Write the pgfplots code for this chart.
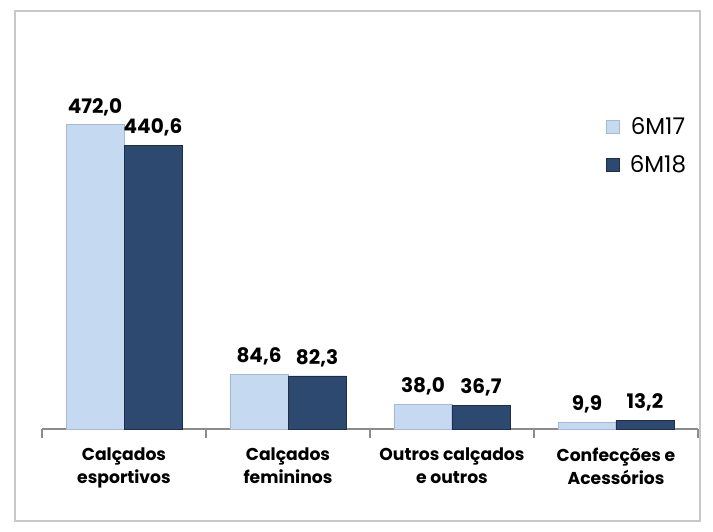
\documentclass[border=0pt]{standalone}
\usepackage{fontspec}
\setmainfont{Poppins}
\usepackage{pgfplots}
\pgfplotsset{compat=1.18}

\definecolor{light}{RGB}{197,217,241}
\definecolor{lightedge}{RGB}{165,185,210}
\definecolor{dark}{RGB}{45,73,112}
\definecolor{darkedge}{RGB}{28,46,74}
\definecolor{frame}{RGB}{200,200,200}
\definecolor{axisgray}{RGB}{140,140,140}

\begin{document}
\begin{tikzpicture}
\useasboundingbox (0,0) rectangle (356.5pt,265.5pt);
\draw[frame, line width=0.6pt] (7.5pt,5pt) rectangle (350pt,260pt);
\begin{axis}[
    at={(21pt,51pt)},
    anchor=south west,
    scale only axis,
    width=328pt,
    height=174pt,
    ybar,
    bar width=29pt,
    ybar=0pt,
    xmin=-0.5, xmax=3.5,
    ymin=0, ymax=540,
    axis x line*=bottom,
    axis y line=none,
    axis line style={axisgray, line width=0.7pt},
    xtick={0,1,2,3},
    xticklabels={{Calçados\\esportivos},{Calçados\\femininos},{Outros calçados\\e outros},{Confecções e\\Acessórios}},
    major tick length=0pt,
    xticklabel style={font=\bfseries\fontsize{8.6}{11.5}\selectfont, align=center, yshift=-6pt},
    extra x ticks={-0.5,0.5,1.5,2.5,3.5},
    extra x tick labels={},
    extra x tick style={major tick length=4.5pt, tick align=outside, tick style={axisgray, line width=0.7pt}},
    /pgf/number format/.cd, fixed, fixed zerofill, precision=1, use comma, assume math mode=true,
    /pgfplots/.cd,
    nodes near coords,
    nodes near coords style={font=\bfseries\fontsize{10}{11}\selectfont, black, yshift=1pt},
    legend style={draw=none, fill=none, at={(0.85,0.92)}, anchor=north west,
        font=\fontsize{11.5}{12}\selectfont, row sep=5pt,
        nodes={inner xsep=5pt}},
    legend image code/.code={\draw[#1] (0pt,-3pt) rectangle (6.5pt,3.5pt);},
]
\addplot[fill=light, draw=lightedge] coordinates {(0,472.0) (1,84.6) (2,38.0) (3,9.9)};
\addplot[fill=dark, draw=darkedge] coordinates {(0,440.6) (1,82.3) (2,36.7) (3,13.2)};
\legend{6M17, 6M18}
\end{axis}
\end{tikzpicture}
\end{document}
